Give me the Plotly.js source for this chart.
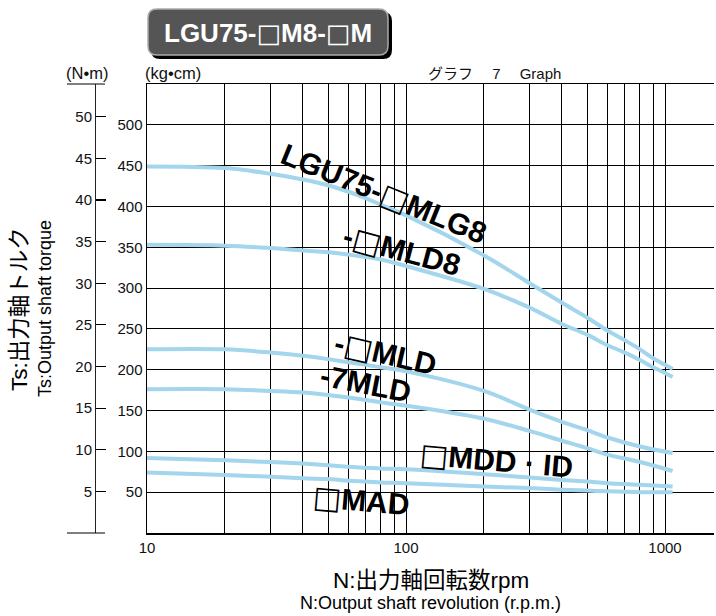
<!DOCTYPE html>
<html>
<head>
<meta charset="utf-8">
<script src="https://cdn.plot.ly/plotly-3.0.1.min.js"></script>
<style>
  html, body { margin: 0; padding: 0; background: #fff; }
  #graph { width: 716px; height: 616px; }
</style>
</head>
<body>
<div id="graph"></div>
<script>
(function () {
    'use strict';

    // output shaft revolution (rpm) sampled along the curves
    var rpmUpper = [10, 20, 30, 40, 50, 60, 70, 80, 100, 200, 300, 400, 500, 600, 700, 800, 900, 1000, 1070];
    var rpm = [10, 20, 30, 40, 50, 60, 70, 80, 100, 200, 300, 400, 500, 600, 800, 1070];

    // output shaft torque (kg·cm) for each model
    var mlg8 = [449, 447, 440, 433, 426, 418, 410, 402, 389, 340, 306, 282, 264, 248, 236, 225, 214, 206, 201];
    var mld8 = [353, 352, 349, 346, 344, 341, 338, 335, 327, 299, 276, 256, 243, 230, 221, 212, 203, 196, 191];
    var mld = [225, 225, 221, 217, 213, 209, 206, 203, 198, 174, 151, 136, 126, 117, 106, 98];
    var mld7 = [176, 176, 174, 172, 169, 166, 163, 160, 156, 140, 125, 113, 104, 96, 87, 76];
    var mdd = [92, 89, 87, 85, 83, 81, 80, 79, 78, 72, 68, 65, 63, 61, 59, 57];
    var mad = [74, 71, 69, 67, 66, 64, 63, 62, 61, 57, 55, 53, 52, 51, 50, 50];

    var xTicks = [10, 20, 30, 40, 50, 60, 70, 80, 90, 100, 200, 300, 400, 500, 600, 700, 800, 900, 1000];
    var xLabels = ['10', '', '', '', '', '', '', '', '', '100', '', '', '', '', '', '', '', '', '1000'];
    var kgTicks = [50, 100, 150, 200, 250, 300, 350, 400, 450, 500];
    var nmTicks = [5, 10, 15, 20, 25, 30, 35, 40, 45, 50];

    var W = 716, H = 616;
    var M = {l: 60, r: 2, t: 84, b: 83};
    var plotW = W - M.l - M.r, plotH = H - M.t - M.b;
    // pixel -> paper helpers for decorations
    function px(x) { return (x - M.l) / plotW; }
    function py(y) { return (H - M.b - y) / plotH; }

    var LINE = '#a3d5ec';
    var curves = [[rpmUpper, mlg8], [rpmUpper, mld8], [rpm, mld], [rpm, mld7], [rpm, mdd], [rpm, mad]];
    var data = curves.map(function (c) {
        return {
            x: c[0], y: c[1], type: 'scatter', mode: 'lines',
            line: {color: LINE, width: 4, shape: 'spline', smoothing: 1},
            hoverinfo: 'skip', showlegend: false
        };
    });
    // empty trace so the N·m axis gets drawn
    data.push({x: [], y: [], yaxis: 'y2', type: 'scatter', showlegend: false});

    var tickFont = {family: 'Liberation Sans, Arial, sans-serif', size: 15, color: '#111'};
    var unitFont = {family: 'Liberation Sans, Arial, sans-serif', size: 16.5, color: '#111'};
    var labFont = {family: 'Liberation Sans, Arial, sans-serif', size: 30, color: '#000', weight: 'bold'};
    var jpFamily = 'Liberation Sans, Noto Sans CJK JP, sans-serif';
    // the hollow square reads bigger in DejaVu
    var SQ = '<span style="font-family:DejaVu Sans">□</span>';

    function note(text, x, y, font, ang) {
        return {text: text, xref: 'paper', yref: 'paper', x: px(x), y: py(y),
            xanchor: 'center', yanchor: 'middle', showarrow: false, textangle: ang || 0, font: font};
    }

    function roundRect(x0, y0, x1, y1, r) {
        var a = px(x0), b = px(x1), c = py(y0), d = py(y1);
        var rx = r / plotW, ry = r / plotH;
        return 'M' + (a + rx) + ',' + c + ' L' + (b - rx) + ',' + c +
            ' Q' + b + ',' + c + ' ' + b + ',' + (c - ry) +
            ' L' + b + ',' + (d + ry) + ' Q' + b + ',' + d + ' ' + (b - rx) + ',' + d +
            ' L' + (a + rx) + ',' + d + ' Q' + a + ',' + d + ' ' + a + ',' + (d + ry) +
            ' L' + a + ',' + (c - ry) + ' Q' + a + ',' + c + ' ' + (a + rx) + ',' + c + ' Z';
    }

    var layout = {
        width: W, height: H,
        margin: M,
        paper_bgcolor: '#fff', plot_bgcolor: '#fff',
        showlegend: false,
        xaxis: {
            type: 'log', domain: [px(147), 1],
            range: [1, 1 + (714 - 147) / 259],
            tickmode: 'array', tickvals: xTicks, ticktext: xLabels,
            ticks: '', showgrid: true, gridcolor: '#000', gridwidth: 1,
            showline: true, linecolor: '#000', linewidth: 1.5, mirror: true,
            zeroline: false, tickfont: tickFont
        },
        yaxis: {
            range: [0, 550],
            tickmode: 'array', tickvals: kgTicks,
            ticks: '', showgrid: true, gridcolor: '#000', gridwidth: 1,
            showline: true, linecolor: '#000', linewidth: 1.5,
            zeroline: false, tickfont: tickFont
        },
        yaxis2: {
            overlaying: 'y', anchor: 'free', position: px(95), side: 'left',
            range: [0, 550 * 0.0980665],
            tickmode: 'array', tickvals: nmTicks,
            ticks: 'inside', ticklen: 10, tickwidth: 1.2, tickcolor: '#000',
            showgrid: false, zeroline: false,
            showline: true, linecolor: '#222', linewidth: 1.2,
            tickfont: tickFont
        },
        shapes: [
            {type: 'line', xref: 'paper', yref: 'paper', x0: px(67), x1: px(105), y0: py(84), y1: py(84), line: {color: '#000', width: 1.2}},
            {type: 'line', xref: 'paper', yref: 'paper', x0: px(67), x1: px(105), y0: py(533), y1: py(533), line: {color: '#000', width: 1.2}},
            {type: 'path', xref: 'paper', yref: 'paper', path: roundRect(151, 12, 392, 59, 9), fillcolor: '#000', line: {width: 0}},
            {type: 'path', xref: 'paper', yref: 'paper', path: roundRect(148, 9, 388, 55, 9), fillcolor: '#555', line: {color: '#aaa', width: 1.5}}
        ],
        annotations: [
            note('LGU75-' + SQ + 'M8-' + SQ + 'M', 268, 33, {family: 'Liberation Sans, Arial, sans-serif', size: 26, color: '#fff', weight: 'bold'}),
            note('(N•m)', 87, 73, unitFont),
            note('(kg•cm)', 173, 73, unitFont),
            note('グラフ\u3000 7 \u3000Graph', 494, 73, {family: jpFamily, size: 15, color: '#111'}),
            note('Ts:出力軸トルク', 19, 309, {family: jpFamily, size: 22.5, color: '#000'}, -90),
            note('Ts:Output shaft torque', 45, 309, {family: jpFamily, size: 18, color: '#000'}, -90),
            note('N:出力軸回転数rpm', 431, 580, {family: jpFamily, size: 22.5, color: '#000'}),
            note('N:Output shaft revolution (r.p.m.)', 430, 603, {family: jpFamily, size: 18, color: '#000'}),
            note('LGU75-' + SQ + 'MLG8', 384, 193, labFont, 22),
            note('-' + SQ + 'MLD8', 402, 250, labFont, 15),
            note('-' + SQ + 'MLD', 385, 353, labFont, 13),
            note('-7MLD', 366, 383, labFont, 11),
            note(SQ + 'MDD · ID', 496, 460, labFont, 5),
            note(SQ + 'MAD', 361, 500, labFont, 5)
        ]
    };

    Plotly.newPlot('graph', data, layout, {displayModeBar: false, staticPlot: true});
})();
</script>
</body>
</html>
